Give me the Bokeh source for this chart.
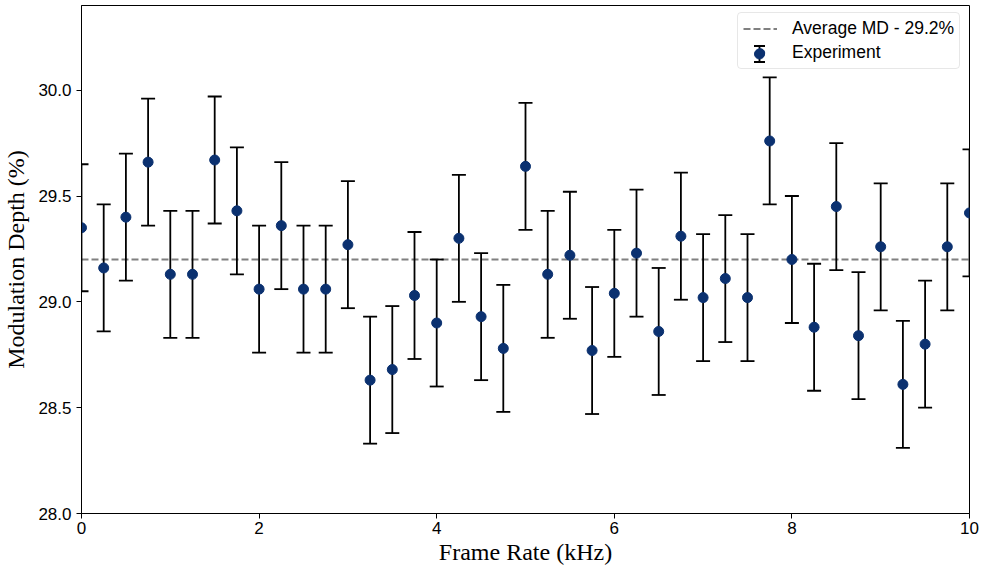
import numpy as np
from bokeh.plotting import figure
from bokeh.models import (ColumnDataSource, Range1d, FixedTicker, NumeralTickFormatter,
                          Legend, LegendItem)
from bokeh.embed import file_html
from bokeh.resources import INLINE

# Measured modulation depth versus camera frame rate
frame_rate_khz = [0.0, 0.25, 0.5, 0.75, 1.0, 1.25, 1.5, 1.75, 2.0, 2.25, 2.5,
                  2.75, 3.0, 3.25, 3.5, 3.75, 4.0, 4.25, 4.5, 4.75, 5.0, 5.25,
                  5.5, 5.75, 6.0, 6.25, 6.5, 6.75, 7.0, 7.25, 7.5, 7.75, 8.0,
                  8.25, 8.5, 8.75, 9.0, 9.25, 9.5, 9.75, 10.0]
modulation_depth = [29.35, 29.16, 29.40, 29.66, 29.13, 29.13, 29.67, 29.43, 29.06,
                    29.36, 29.06, 29.06, 29.27, 28.63, 28.68, 29.03, 28.90, 29.30,
                    28.93, 28.78, 29.64, 29.13, 29.22, 28.77, 29.04, 29.23, 28.86,
                    29.31, 29.02, 29.11, 29.02, 29.76, 29.20, 28.88, 29.45, 28.84,
                    29.26, 28.61, 28.80, 29.26, 29.42]
md_error = [0.30, 0.30, 0.30, 0.30, 0.30, 0.30, 0.30, 0.30, 0.30, 0.30, 0.30,
            0.30, 0.30, 0.30, 0.30, 0.30, 0.30, 0.30, 0.30, 0.30, 0.30, 0.30,
            0.30, 0.30, 0.30, 0.30, 0.30, 0.30, 0.30, 0.30, 0.30, 0.30, 0.30,
            0.30, 0.30, 0.30, 0.30, 0.30, 0.30, 0.30, 0.30]
avg_md = 29.2
x_ticks = [0, 2, 4, 6, 8, 10]
y_ticks = [28.0, 28.5, 29.0, 29.5, 30.0]

y = np.array(modulation_depth)
err = np.array(md_error)
src = ColumnDataSource(dict(x=frame_rate_khz, y=y, lo=y - err, hi=y + err))

TICK_FONT = "Liberation Sans"
LABEL_FONT = "Liberation Serif"
MARKER_COLOR = "#0b3170"

# frame geometry (canvas pixels) and axis limits
W, H = 981, 570
BORDER_L, BORDER_R, BORDER_T, BORDER_B = 81, 12, 5, 57
FRAME_W = W - BORDER_L - BORDER_R
FRAME_H = H - BORDER_T - BORDER_B
FRAME_BOTTOM = BORDER_T + FRAME_H
X0, X1 = 0.0, 10.0
Y0, Y1 = 28.0, 30.4


def canvas_to_data(cx, cy):
    """Convert a canvas pixel position inside the frame to data coordinates."""
    return (X0 + (cx - BORDER_L) / FRAME_W * (X1 - X0),
            Y0 + (FRAME_BOTTOM - cy) / FRAME_H * (Y1 - Y0))


p = figure(width=W, height=H, output_backend="svg", toolbar_location=None,
           x_range=Range1d(X0, X1), y_range=Range1d(Y0, Y1),
           min_border_left=BORDER_L, min_border_right=BORDER_R,
           min_border_top=BORDER_T, min_border_bottom=BORDER_B)
p.background_fill_color = "white"
p.border_fill_color = "white"
p.outline_line_color = "black"
p.outline_line_width = 1
p.xgrid.visible = False
p.ygrid.visible = False

# average line
avg_line = p.line(x=[frame_rate_khz[0], frame_rate_khz[-1]], y=[avg_md, avg_md],
                  line_color="#808080", line_width=2, line_dash="7 3")

# error bars: stems and caps
p.segment(x0="x", y0="lo", x1="x", y1="hi", source=src,
          line_color="black", line_width=1.8)
p.scatter(x="x", y="lo", source=src, marker="dash", size=14,
          line_color="black", line_width=1.8)
p.scatter(x="x", y="hi", source=src, marker="dash", size=14,
          line_color="black", line_width=1.8)

pts = p.scatter(x="x", y="y", source=src, marker="circle", size=10,
                fill_color=MARKER_COLOR, line_color=MARKER_COLOR)

for ax in (p.xaxis, p.yaxis):
    ax.axis_line_color = "black"
    ax.major_tick_line_color = "black"
    ax.major_tick_out = 5
    ax.major_tick_in = 0
    ax.minor_tick_line_color = None
    ax.major_label_text_font = TICK_FONT
    ax.major_label_text_font_size = "17px"
    ax.major_label_text_color = "black"
    ax.axis_label_text_font = LABEL_FONT
    ax.axis_label_text_font_size = "24px"
    ax.axis_label_text_font_style = "normal"
    ax.axis_label_text_color = "black"

p.xaxis.ticker = FixedTicker(ticks=x_ticks)
p.yaxis.ticker = FixedTicker(ticks=y_ticks)
p.yaxis.formatter = NumeralTickFormatter(format="0.0")
p.xaxis.axis_label = "Frame Rate (kHz)"
p.yaxis.axis_label = "Modulation Depth (%)"
p.xaxis.major_label_standoff = 3
p.yaxis.major_label_standoff = 5
p.xaxis.axis_label_standoff = 2
p.yaxis.axis_label_standoff = 6

# legend box placed by its bottom-left corner, relative to the frame
LEG_LEFT, LEG_TOP = 737, 14          # canvas pixels
LEG_PAD, GLYPH_W, GLYPH_H, LEG_SPACING = 5, 34, 21, 3
leg_height = 2 * LEG_PAD + 2 * GLYPH_H + LEG_SPACING
leg_bottom = LEG_TOP + leg_height

# error-bar key for the "Experiment" entry, drawn beneath the legend glyph
key_cx = LEG_LEFT + LEG_PAD + GLYPH_W / 2
key_cy = LEG_TOP + LEG_PAD + GLYPH_H + LEG_SPACING + GLYPH_H / 2
half_stem = 8
kx, ky = canvas_to_data(key_cx, key_cy)
_, ky_top = canvas_to_data(key_cx, key_cy - half_stem)
_, ky_bot = canvas_to_data(key_cx, key_cy + half_stem)
p.segment(x0=[kx], y0=[ky_bot], x1=[kx], y1=[ky_top],
          line_color="black", line_width=1.8)
p.scatter(x=[kx, kx], y=[ky_bot, ky_top], marker="dash", size=11,
          line_color="black", line_width=1.8)
p.scatter(x=[kx], y=[ky], marker="circle", size=10,
          fill_color=MARKER_COLOR, line_color=MARKER_COLOR)

legend = Legend(items=[LegendItem(label="Average MD - 29.2%", renderers=[avg_line]),
                       LegendItem(label="Experiment", renderers=[pts])],
                location=(LEG_LEFT - BORDER_L, FRAME_BOTTOM - leg_bottom))
legend.margin = 0
legend.padding = LEG_PAD
legend.spacing = LEG_SPACING
legend.glyph_width = GLYPH_W
legend.glyph_height = GLYPH_H
legend.label_height = GLYPH_H
legend.label_standoff = 15
legend.label_text_font = TICK_FONT
legend.label_text_font_size = "17.5px"
legend.label_text_color = "black"
legend.border_line_color = "#d0d0d0"
legend.border_line_width = 1
legend.background_fill_alpha = 0
if "border_radius" in Legend.properties():
    legend.border_radius = 4
p.add_layout(legend)

open("out.html", "w").write(file_html(p, INLINE))
